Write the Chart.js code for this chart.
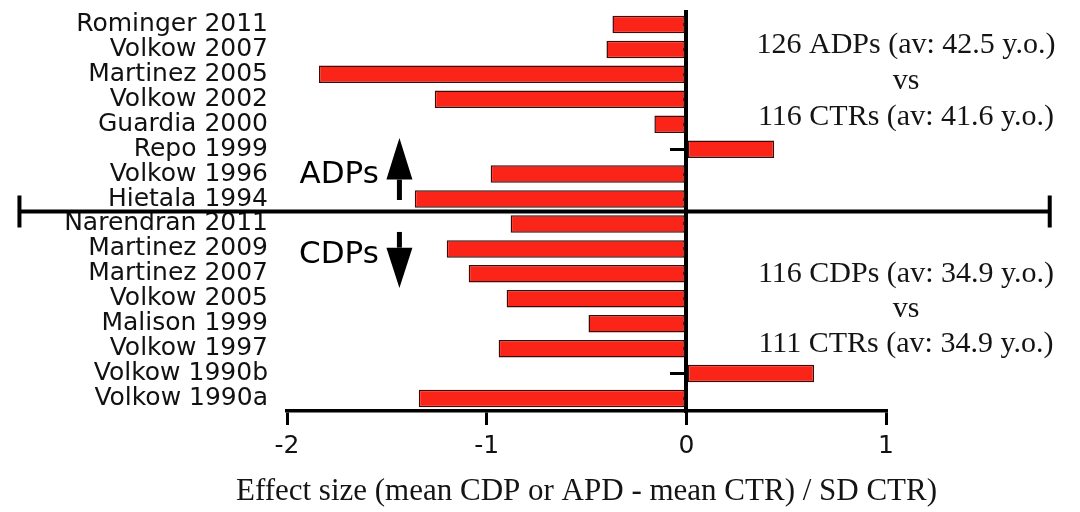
<!DOCTYPE html>
<html>
<head>
<meta charset="utf-8">
<script src="https://cdn.jsdelivr.net/npm/chart.js@4.4.1/dist/chart.umd.min.js"></script>
<style>
html,body{margin:0;padding:0;background:#fff;}
#wrap{width:1080px;height:512px;position:relative;}
</style>
</head>
<body>
<div id="wrap"><canvas id="c" width="1080" height="512"></canvas></div>
<script>
const studies = ["Rominger 2011","Volkow 2007","Martinez 2005","Volkow 2002","Guardia 2000","Repo 1999","Volkow 1996","Hietala 1994","Narendran 2011","Martinez 2009","Martinez 2007","Volkow 2005","Malison 1999","Volkow 1997","Volkow 1990b","Volkow 1990a"];
const effectSizes = [-0.37,-0.40,-1.84,-1.26,-0.16,0.44,-0.98,-1.36,-0.88,-1.20,-1.09,-0.90,-0.49,-0.94,0.64,-1.34];
const xTicks = [-2,-1,0,1];
const xTitle = "Effect size (mean CDP or APD - mean CTR) / SD CTR)";
const adpBlock = ["126 ADPs (av: 42.5 y.o.)","vs","116 CTRs (av: 41.6 y.o.)"];
const cdpBlock = ["116 CDPs (av: 34.9 y.o.)","vs","111 CTRs (av: 34.9 y.o.)"];
const groupLabels = ["ADPs","CDPs"];

const decor = {
  id: 'decor',
  afterDraw(chart) {
    const ctx = chart.ctx;
    const xs = chart.scales.x, ys = chart.scales.y;
    ctx.save();
    ctx.strokeStyle = '#000';
    ctx.fillStyle = '#000';
    // divider between the two groups
    const yd = ys.getPixelForValue(7.5);
    const xl = xs.getPixelForValue(-3.34), xr = xs.getPixelForValue(1.82);
    ctx.lineWidth = 4;
    ctx.beginPath();
    ctx.moveTo(xl, yd); ctx.lineTo(xr, yd);
    ctx.moveTo(xl, yd - 16); ctx.lineTo(xl, yd + 16);
    ctx.moveTo(xr, yd - 16); ctx.lineTo(xr, yd + 16);
    ctx.stroke();

    // arrows
    const ax = xs.getPixelForValue(-1.437);
    function arrow(yTail, yBase, yTip) {
      ctx.lineWidth = 5;
      ctx.beginPath();
      ctx.moveTo(ax, yTail); ctx.lineTo(ax, yBase);
      ctx.stroke();
      ctx.beginPath();
      ctx.moveTo(ax - 13, yBase); ctx.lineTo(ax + 13, yBase); ctx.lineTo(ax, yTip);
      ctx.closePath(); ctx.fill();
    }
    arrow(ys.getPixelForValue(7.04), ys.getPixelForValue(6.22), ys.getPixelForValue(4.55));
    arrow(ys.getPixelForValue(8.32), ys.getPixelForValue(8.95), ys.getPixelForValue(10.57));

    ctx.font = '31px "DejaVu Sans"';
    ctx.textAlign = 'right';
    ctx.textBaseline = 'middle';
    ctx.fillText(groupLabels[0], xs.getPixelForValue(-1.54), ys.getPixelForValue(6.04));
    ctx.fillText(groupLabels[1], xs.getPixelForValue(-1.54), ys.getPixelForValue(9.24));

    // right-side group descriptions
    ctx.font = '30px "Liberation Serif"';
    ctx.textAlign = 'center';
    ctx.textBaseline = 'alphabetic';
    ctx.fillStyle = '#141414';
    const cx = xs.getPixelForValue(1.10);
    const topIdx = [1.14, 2.59, 4.03];
    const botIdx = [10.33, 11.73, 13.13];
    adpBlock.forEach((t, i) => ctx.fillText(t, cx, ys.getPixelForValue(topIdx[i])));
    cdpBlock.forEach((t, i) => ctx.fillText(t, cx, ys.getPixelForValue(botIdx[i])));

    // x-axis title (drawn at natural width, centred under the value axis)
    ctx.font = '31px "Liberation Serif"';
    ctx.fillText(xTitle, (xs.left + xs.right) / 2, xs.bottom - 12);
    ctx.restore();
  }
};

new Chart(document.getElementById('c'), {
  type: 'bar',
  data: {
    labels: studies,
    datasets: [{
      data: effectSizes,
      backgroundColor: '#fb2419',
      borderColor: '#3c0c08',
      borderWidth: 1.5,
      borderSkipped: false,
      barPercentage: 0.7,
      categoryPercentage: 1.0
    }]
  },
  options: {
    indexAxis: 'y',
    responsive: false,
    animation: false,
    layout: { padding: { top: 12, right: 194, bottom: 0, left: 0 } },
    plugins: { legend: { display: false }, tooltip: { enabled: false } },
    scales: {
      x: {
        type: 'linear',
        min: -2, max: 1,
        afterBuildTicks(scale) { scale.ticks = xTicks.map(v => ({ value: v })); },
        afterFit(scale) { scale.height = 101; },
        border: { display: true, color: '#000', width: 3.5 },
        grid: { display: true, drawOnChartArea: false, drawTicks: true, tickLength: 14, lineWidth: 3, color: '#000' },
        ticks: { color: '#111', padding: 6, font: { family: 'DejaVu Sans', size: 25, lineHeight: 1.2 } },
        title: { display: false }
      },
      y: {
        type: 'category',
        position: 'left',
        afterFit(scale) { scale.width = 287; },
        border: { display: false },
        grid: { display: false, drawTicks: true, tickLength: 19 },
        ticks: { autoSkip: false, color: '#111', padding: 0, font: { family: 'DejaVu Sans', size: 25, lineHeight: 0.9 } }
      },
      y2: {
        type: 'category',
        axis: 'y',
        position: { x: 0 },
        offset: true,
        border: { display: true, color: '#000', width: 4 },
        grid: { display: true, offset: false, drawOnChartArea: false, drawTicks: true, tickLength: 14, lineWidth: 3, color: '#000' },
        ticks: { display: false, autoSkip: false }
      }
    }
  },
  plugins: [decor]
});
</script>
</body>
</html>
